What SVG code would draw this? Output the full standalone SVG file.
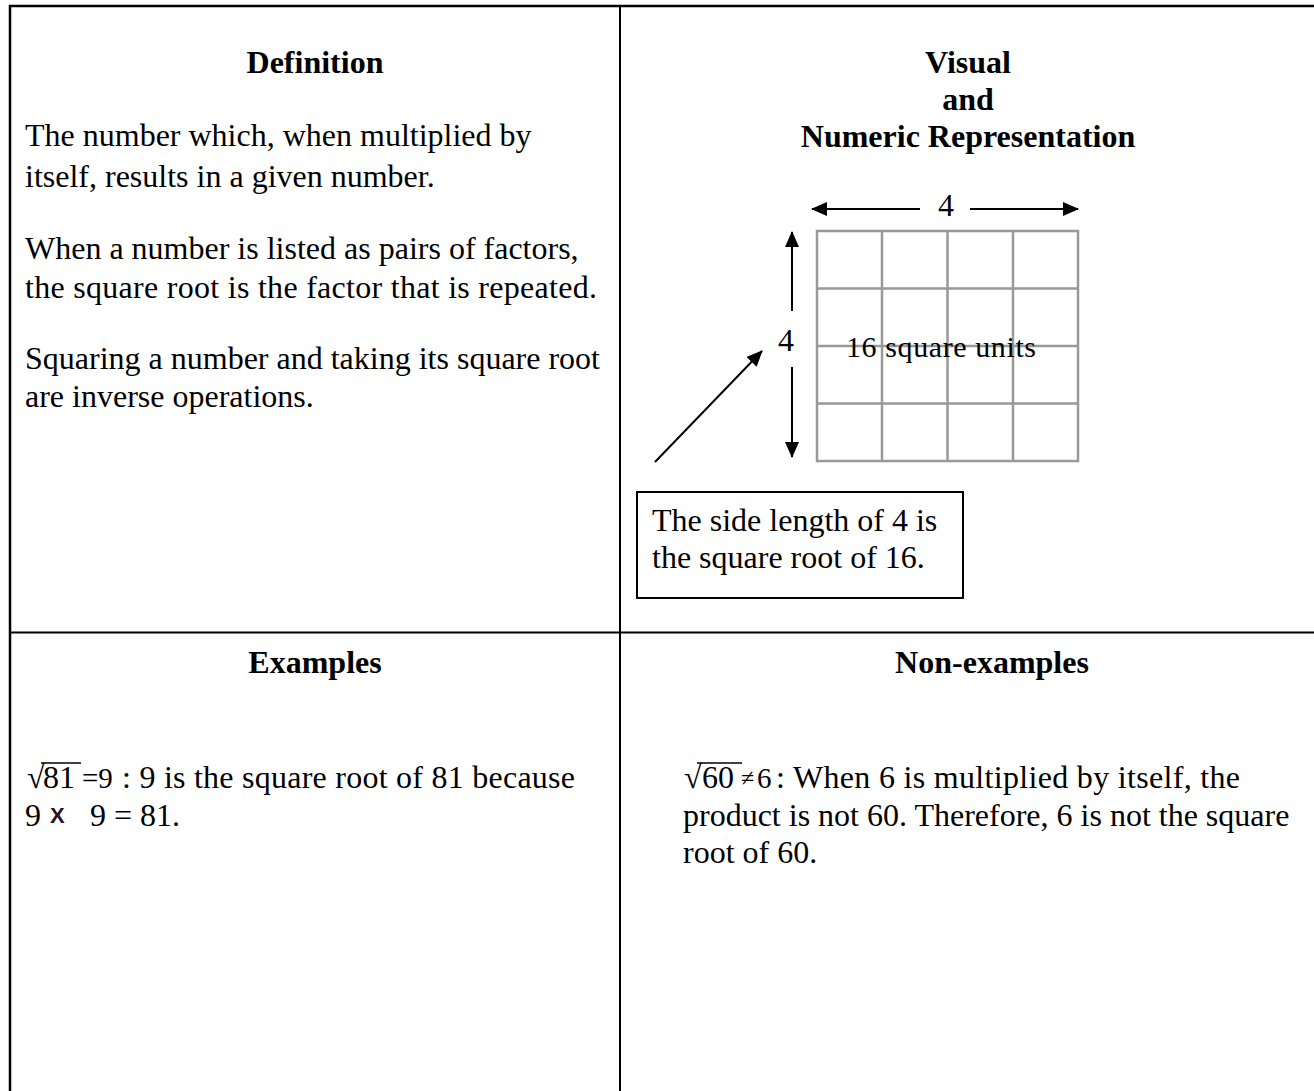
<svg xmlns="http://www.w3.org/2000/svg" width="1314" height="1091" viewBox="0 0 1314 1091">
<style>
text{font-family:"Liberation Serif","Times New Roman",serif;fill:#000}
.h{font-size:32px;font-weight:bold;text-anchor:middle}
.b{font-size:32px}
.rule{stroke:#000;stroke-width:2.5;fill:none}
.grid{stroke:#999;stroke-width:2.5;fill:none}
.arr{stroke:#000;stroke-width:2;fill:none}
.bar{stroke:#000;stroke-width:1.5}
</style>
<defs>
<marker id="ah" viewBox="0 0 16 14" refX="15" refY="7" markerWidth="16" markerHeight="14" markerUnits="userSpaceOnUse" orient="auto">
<path d="M0,0 L16,7 L0,14 Z" fill="#000"/>
</marker>
</defs>
<rect width="1314" height="1091" fill="#fff"/>
<g id="table">
<line class="rule" x1="9" y1="6" x2="1314" y2="6"/>
<line class="rule" x1="10" y1="5" x2="10" y2="1091"/>
<line class="rule" x1="620" y1="5" x2="620" y2="1091" style="stroke-width:2"/>
<line class="rule" x1="10" y1="632.5" x2="1314" y2="632.5" style="stroke-width:2"/>
</g>
<g id="definition">
<text class="h" x="315" y="73">Definition</text>
<text class="b" x="25" y="146">The number which, when multiplied by</text>
<text class="b" x="25" y="187">itself, results in a given number.</text>
<text class="b" x="25" y="259">When a number is listed as pairs of factors,</text>
<text class="b" x="25" y="298" textLength="572">the square root is the factor that is repeated.</text>
<text class="b" x="25" y="369">Squaring a number and taking its square root</text>
<text class="b" x="25" y="407">are inverse operations.</text>
</g>
<g id="visual">
<text class="h" x="968" y="73">Visual</text>
<text class="h" x="968" y="110">and</text>
<text class="h" x="968" y="147">Numeric Representation</text>
</g>
<g id="grid">
<rect class="grid" x="817" y="231" width="261" height="230"/>
<line class="grid" x1="882" y1="231" x2="882" y2="461"/>
<line class="grid" x1="947.5" y1="231" x2="947.5" y2="461"/>
<line class="grid" x1="1013" y1="231" x2="1013" y2="461"/>
<line class="grid" x1="817" y1="288.5" x2="1078" y2="288.5"/>
<line class="grid" x1="817" y1="346" x2="1078" y2="346"/>
<line class="grid" x1="817" y1="403.5" x2="1078" y2="403.5"/>
<text x="846" y="357" textLength="190" style="font-size:30px">16 square units</text>
</g>
<g id="dim-top">
<text class="b" x="946" y="216" text-anchor="middle">4</text>
</g>
<g id="dim-side">
<text class="b" x="786" y="351" text-anchor="middle">4</text>
</g>
<g id="callout">
<rect x="637" y="492" width="326" height="106" fill="none" stroke="#000" stroke-width="2"/>
<text class="b" x="652" y="531">The side length of 4 is</text>
<text class="b" x="652" y="568">the square root of 16.</text>
</g>
<g id="connectors">
<line class="arr" x1="920" y1="209" x2="812" y2="209" marker-end="url(#ah)"/>
<line class="arr" x1="970" y1="209" x2="1078" y2="209" marker-end="url(#ah)"/>
<line class="arr" x1="792" y1="311" x2="792" y2="232" marker-end="url(#ah)"/>
<line class="arr" x1="792" y1="367" x2="792" y2="457" marker-end="url(#ah)"/>
<line class="arr" x1="655" y1="462" x2="762" y2="351" marker-end="url(#ah)"/>
</g>
<g id="examples">
<text class="h" x="315" y="673">Examples</text>
<text class="b" x="27" y="788">√</text>
<line class="bar" x1="41" y1="763" x2="81" y2="763"/>
<text class="b" x="43" y="788">81</text>
<text x="82" y="788" style="font-size:29px">=9</text>
<text class="b" x="122" y="788" textLength="453">: 9 is the square root of 81 because</text>
<text class="b" x="25" y="826">9</text>
<text x="50" y="823" style="font-family:'Liberation Sans',Arial,sans-serif;font-size:22px;font-weight:bold;fill:#2a1020">X</text>
<text class="b" x="90" y="826">9 = 81.</text>
</g>
<g id="nonexamples">
<text class="h" x="992" y="673">Non-examples</text>
<text class="b" x="684" y="788">√</text>
<line class="bar" x1="697" y1="763" x2="742" y2="763"/>
<text class="b" x="702" y="788">60</text>
<text x="741" y="786" style="font-size:24px">≠</text>
<text x="757" y="788" style="font-size:29px">6</text>
<text class="b" x="776" y="788" textLength="464">: When 6 is multiplied by itself, the</text>
<text class="b" x="683" y="826">product is not 60. Therefore, 6 is not the square</text>
<text class="b" x="683" y="863">root of 60.</text>
</g>
</svg>
